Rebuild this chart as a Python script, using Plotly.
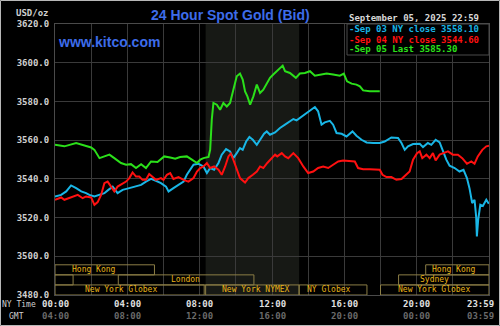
import plotly.graph_objects as go

# ---- price data (hours after midnight NY time, USD/oz) ----
sep03_hours = [0.0, 0.34, 0.62, 0.89, 1.17, 1.45, 1.72, 1.9, 2.18, 2.46, 2.73, 2.95, 3.19, 3.46,
               3.74, 4.11, 4.48, 4.76, 5.03, 5.31, 5.58, 5.86, 6.14, 6.28, 6.55, 6.83, 7.11, 7.29,
               7.48, 7.66, 7.93, 8.21, 8.4, 8.58, 8.8, 9.04, 9.22, 9.46, 9.68, 9.86, 10.05, 10.23,
               10.38, 10.57, 10.75, 10.94, 11.16, 11.34, 11.56, 11.71, 11.89, 12.17, 12.44, 12.72,
               12.99, 13.18, 13.36, 13.64, 13.92, 14.19, 14.37, 14.55, 14.74, 14.92, 15.2, 15.38,
               15.57, 15.85, 16.12, 16.45, 16.67, 16.95, 17.23, 17.59, 17.96, 18.23, 18.6, 18.97,
               19.16, 19.34, 19.52, 19.8, 20.17, 20.35, 20.62, 20.81, 21.05, 21.27, 21.45, 21.64,
               21.82, 22.1, 22.37, 22.59, 22.78, 22.92, 23.07, 23.2, 23.29, 23.33, 23.4, 23.52,
               23.66, 23.85, 23.99]
sep03_price = [3530.9, 3531.7, 3533.5, 3536.6, 3535.2, 3533.5, 3532.6, 3531.7, 3530.9, 3531.7,
               3532.6, 3534.3, 3536.0, 3532.6, 3534.3, 3535.2, 3536.0, 3536.9, 3538.6, 3540.0,
               3539.0, 3537.8, 3536.0, 3533.5, 3535.2, 3536.9, 3538.6, 3542.1, 3545.0, 3547.3,
               3547.8, 3546.4, 3543.0, 3545.6, 3544.7, 3548.2, 3552.5, 3555.4, 3554.2, 3550.7,
               3553.3, 3555.9, 3555.0, 3559.3, 3561.6, 3560.2, 3557.6, 3560.2, 3563.3, 3564.5,
               3562.8, 3564.0, 3566.3, 3568.0, 3569.7, 3570.9, 3570.2, 3572.0, 3574.0, 3575.7,
               3577.1, 3574.9, 3568.0, 3569.2, 3570.0, 3568.0, 3563.7, 3563.3, 3561.9, 3564.5,
               3562.3, 3560.2, 3558.8, 3558.5, 3558.5, 3559.3, 3561.4, 3561.1, 3558.5, 3555.0,
               3556.8, 3558.0, 3558.1, 3556.4, 3558.5, 3557.6, 3560.2, 3558.8, 3554.2, 3549.9,
               3546.8, 3545.6, 3543.8, 3544.7, 3540.4, 3535.2, 3527.5, 3529.2, 3520.5, 3510.2,
               3518.8, 3526.6, 3526.0, 3529.2, 3527.1]

sep04_hours = [0.0, 0.34, 0.52, 0.8, 1.08, 1.26, 1.53, 1.72, 2.0, 2.18, 2.36, 2.55, 2.73, 2.91,
               3.1, 3.28, 3.46, 3.65, 3.93, 4.11, 4.29, 4.48, 4.66, 4.84, 5.03, 5.21, 5.4, 5.58,
               5.86, 6.0, 6.19, 6.37, 6.55, 6.83, 7.11, 7.38, 7.66, 7.85, 8.03, 8.21, 8.4, 8.58,
               8.8, 9.04, 9.22, 9.41, 9.59, 9.72, 9.86, 10.05, 10.23, 10.51, 10.69, 10.94, 11.16,
               11.34, 11.52, 11.74, 11.98, 12.17, 12.29, 12.54, 12.72, 12.9, 13.18, 13.45, 13.73,
               14.0, 14.28, 14.55, 14.83, 15.11, 15.38, 15.66, 15.93, 16.3, 16.58, 16.76, 17.04,
               17.41, 17.78, 17.96, 18.11, 18.33, 18.6, 18.88, 19.16, 19.43, 19.61, 19.8, 20.02,
               20.17, 20.31, 20.54, 20.72, 20.9, 21.05, 21.27, 21.49, 21.73, 22.0, 22.28, 22.52,
               22.78, 23.02, 23.2, 23.38, 23.63, 23.85, 24.0]
sep04_price = [3529.2, 3530.4, 3529.2, 3530.0, 3530.9, 3531.7, 3530.0, 3530.9, 3530.4, 3526.6,
               3528.0, 3531.7, 3537.8, 3538.6, 3536.0, 3533.5, 3536.0, 3536.9, 3538.6, 3540.4,
               3543.3, 3541.2, 3541.2, 3539.5, 3539.5, 3542.5, 3541.2, 3539.5, 3540.4, 3539.5,
               3542.1, 3543.0, 3539.9, 3540.9, 3539.5, 3538.6, 3540.4, 3543.8, 3545.6, 3546.4,
               3548.2, 3545.6, 3546.4, 3544.7, 3542.1, 3546.4, 3551.6, 3553.0, 3549.9, 3544.7,
               3540.4, 3538.1, 3540.4, 3542.1, 3543.8, 3546.4, 3545.6, 3548.2, 3550.7, 3552.5,
               3551.6, 3553.3, 3551.6, 3550.7, 3553.3, 3550.7, 3546.4, 3543.0, 3543.8, 3545.6,
               3546.4, 3545.6, 3547.3, 3549.0, 3549.5, 3549.0, 3549.0, 3545.6, 3545.0, 3545.0,
               3545.0, 3544.7, 3542.1, 3540.9, 3540.9, 3539.5, 3539.9, 3542.1, 3543.8, 3549.9,
               3553.3, 3554.2, 3550.7, 3552.5, 3550.7, 3553.3, 3549.5, 3552.5, 3553.3, 3554.2,
               3552.5, 3552.5, 3550.7, 3547.8, 3549.0, 3547.8, 3551.6, 3555.0, 3556.8, 3557.1]

sep05_hours = [0.0, 0.52, 1.17, 1.63, 2.0, 2.18, 2.46, 2.73, 3.01, 3.28, 3.65, 3.93, 4.2, 4.48,
               4.76, 5.03, 5.31, 5.67, 6.04, 6.37, 6.65, 6.92, 7.29, 7.57, 7.85, 8.03, 8.21, 8.49,
               8.58, 8.67, 8.76, 8.95, 9.13, 9.31, 9.5, 9.68, 9.78, 9.9, 10.05, 10.23, 10.38,
               10.51, 10.64, 10.79, 10.97, 11.16, 11.34, 11.52, 11.71, 11.89, 12.07, 12.35, 12.59,
               12.72, 12.99, 13.32, 13.54, 13.82, 14.1, 14.37, 14.65, 15.02, 15.38, 15.75, 15.97,
               16.15, 16.4, 16.67, 16.86, 17.04, 17.41, 17.96]
sep05_price = [3557.6, 3556.8, 3558.5, 3557.3, 3556.2, 3555.0, 3550.7, 3551.6, 3552.5, 3550.7,
               3548.2, 3547.3, 3547.6, 3545.6, 3547.6, 3545.6, 3549.0, 3548.7, 3551.6, 3551.0,
               3550.4, 3551.3, 3551.6, 3549.9, 3548.2, 3549.9, 3550.7, 3551.3, 3555.0, 3570.6,
               3579.2, 3578.3, 3575.7, 3579.2, 3577.4, 3579.2, 3582.6, 3587.8, 3593.0, 3594.4,
               3591.3, 3585.2, 3582.6, 3578.3, 3582.6, 3588.7, 3584.4, 3586.1, 3589.6, 3592.2,
               3593.9, 3596.4, 3598.5, 3595.6, 3594.7, 3592.2, 3594.4, 3594.7, 3595.6, 3593.3,
               3593.9, 3594.4, 3593.9, 3593.3, 3594.4, 3590.4, 3589.2, 3588.7, 3587.8, 3585.7,
               3585.2, 3585.3]

legend_lines = ["-Sep 03 NY close 3558.10", "-Sep 04 NY close 3544.60", "-Sep 05 Last 3585.30"]
stamp = "September 05, 2025 22:59"

# time axis labels
tick_hours = [0, 4, 8, 12, 16, 20, 24]
ny_labels = ["00:00", "04:00", "08:00", "12:00", "16:00", "20:00", "23:59"]
gmt_labels = ["04:00", "08:00", "12:00", "16:00", "20:00", "00:00", "03:59"]

# trading sessions: (name, start hour, end hour, row, label hour)
sessions = [
    ("Hong Kong", 0.0, 5.5, 0, 2.15),
    ("Hong Kong", 20.5, 24.0, 0, 22.05),
    ("", 0.0, 1.0, 1, None),
    ("London", 3.5, 11.0, 1, 7.2),
    ("Sydney", 19.0, 24.0, 1, 20.97),
    ("New York Globex", 0.0, 8.25, 2, 3.64),
    ("New York NYMEX", 8.33, 13.5, 2, 11.1),
    ("NY Globex", 13.5, 17.25, 2, 15.15),
    ("New York Globex", 18.0, 24.0, 2, 20.97),
]
nymex_open, nymex_close = 8.33, 13.5

# ---- figure geometry ----
W, H = 500, 326
ML, MR, MT, MB = 55, 11, 24, 31
PW, PH = W - ML - MR, H - MT - MB


def px_x(x):
    return (x - ML) / PW


def px_y(y):
    return (H - MB - y) / PH


BLUE = "#3d6cea"
CYAN = "#19b6e6"
RED = "#ff1010"
GREEN = "#2be01a"
GRID = "#3a3a3a"
MONO = "DejaVu Sans Mono"
SESS_LINE = "#8c7e46"
SESS_TEXT = "#e8b418"

fig = go.Figure()
for hrs, vals, col in [(sep03_hours, sep03_price, CYAN),
                       (sep04_hours, sep04_price, RED),
                       (sep05_hours, sep05_price, GREEN)]:
    fig.add_trace(go.Scatter(x=hrs, y=vals, mode="lines",
                             line=dict(color=col, width=2), hoverinfo="skip"))

shapes = []
# NYMEX trading hours shading
shapes.append(dict(type="rect", xref="x", yref="paper", x0=nymex_open, x1=nymex_close,
                   y0=0, y1=1, fillcolor="#171915", line=dict(width=0), layer="below"))

# session boxes, three rows at the bottom
row_bounds = [(3490.4, 3495.6), (3485.2, 3490.4), (3480.0, 3485.2)]
annotations = []
for name, s, e, row, lab in sessions:
    y0, y1 = row_bounds[row]
    shapes.append(dict(type="rect", xref="x", yref="y", x0=s, x1=e, y0=y0, y1=y1,
                       line=dict(color=SESS_LINE, width=1), fillcolor="rgba(0,0,0,0)",
                       layer="above"))
    if name:
        annotations.append(dict(x=lab, y=(y0 + y1) / 2, xref="x", yref="y", text=name,
                                xanchor="center", yanchor="middle", showarrow=False,
                                font=dict(family=MONO, size=8, color=SESS_TEXT)))

# legend panel
shapes.append(dict(type="rect", xref="paper", yref="paper", x0=px_x(347), x1=1,
                   y0=px_y(55), y1=1, fillcolor="#000000",
                   line=dict(color="#4a4a4a", width=1), layer="above"))
# outer frame
shapes.append(dict(type="rect", xref="paper", yref="paper", x0=px_x(0.5), x1=px_x(W - 0.5),
                   y0=px_y(H - 0.5), y1=px_y(0.5), line=dict(color="#b8b8b8", width=1),
                   fillcolor="rgba(0,0,0,0)", layer="above"))


def label(x, y, text, size, color, anchor="center", bold=False, family=MONO, xref="paper",
          xshift=0):
    return dict(x=x, y=px_y(y), xref=xref, yref="paper", text=text, showarrow=False,
                xanchor=anchor, yanchor="middle", xshift=xshift,
                font=dict(family=family, size=size, color=color,
                          weight="bold" if bold else "normal"))


for i, (txt, col) in enumerate(zip(legend_lines, [CYAN, RED, GREEN])):
    annotations.append(label(px_x(347), 29.5 + 10 * i, txt, 9, col, "left", True))

annotations += [
    label(px_x(230), 15, "24 Hour Spot Gold (Bid)", 14, BLUE, bold=True,
          family="Liberation Sans"),
    label(px_x(56), 42, "www.kitco.com", 14, BLUE, "left", True, family="Liberation Sans"),
    label(px_x(51), 13, "USD/oz", 9, "#d0d0d0", "right", True),
    label(px_x(347), 18, stamp, 9, "#d8d8d8", "left", True),
    label(px_x(38), 304, "NY Time", 8, "#d0d0d0", "right"),
    label(px_x(26), 316, "GMT", 8, "#d0d0d0", "right"),
]

for h, ny, gmt in zip(tick_hours, ny_labels, gmt_labels):
    shift = -9 if h == 24 else 0
    annotations.append(label(h, 304, ny, 9, "#e0e0e0", bold=True, xref="x", xshift=shift))
    annotations.append(label(h, 316, gmt, 9, "#6a6a6a", bold=True, xref="x", xshift=shift))

fig.update_layout(
    width=W, height=H,
    margin=dict(l=ML, r=MR, t=MT, b=MB, pad=0),
    paper_bgcolor="#000000", plot_bgcolor="#000000",
    showlegend=False,
    shapes=shapes, annotations=annotations,
    xaxis=dict(range=[0, 24], dtick=2, tick0=0, showgrid=True, gridcolor=GRID, gridwidth=1,
               showticklabels=False, zeroline=False, showline=True, mirror=True,
               linecolor="#4a4a4a", ticks=""),
    yaxis=dict(range=[3480, 3620], dtick=20, tick0=3480, tickformat=".1f", showgrid=True,
               gridcolor=GRID, gridwidth=1, zeroline=False, showline=True, mirror=True,
               linecolor="#4a4a4a", ticks="outside", ticklen=3, tickcolor="#000000",
               tickfont=dict(family=MONO, size=9, color="#d0d0d0", weight="bold")),
)

fig.write_html("out.html")
